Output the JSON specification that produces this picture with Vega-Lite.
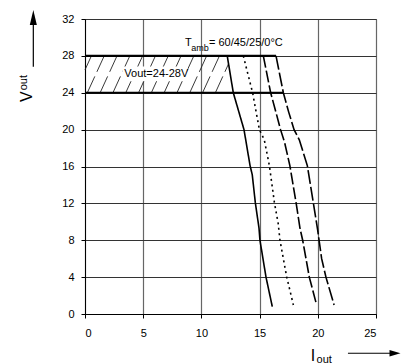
{
  "$schema": "https://vega.github.io/schema/vega-lite/v6.json",
  "width": 291,
  "height": 295,
  "autosize": {"type": "none"},
  "padding": {"left": 85, "top": 19, "right": 25, "bottom": 50},
  "background": "white",
  "config": {
    "view": {"stroke": "#444", "strokeWidth": 1},
    "font": "Liberation Sans",
    "axis": {
      "labelFont": "Liberation Sans",
      "labelFontSize": 11,
      "labelColor": "#000",
      "domainColor": "#000",
      "domainWidth": 1,
      "tickColor": "#000",
      "tickSize": 4,
      "grid": true,
      "gridOpacity": 1,
      "title": null
    }
  },
  "encoding": {
    "x": {
      "field": "x",
      "type": "quantitative",
      "scale": {"domain": [0, 25], "nice": false, "zero": false},
      "axis": {"values": [0, 5, 10, 15, 20, 25], "gridColor": "#666", "gridWidth": 1.2, "labelPadding": 9, "title": null}
    },
    "y": {
      "field": "y",
      "type": "quantitative",
      "scale": {"domain": [0, 32], "nice": false, "zero": false},
      "axis": {"values": [0, 4, 8, 12, 16, 20, 24, 28, 32], "gridColor": "#333", "gridWidth": 1, "labelPadding": 7, "title": null}
    }
  },
  "layer": [
    {
      "data": {"values": [
        {"x": 0, "y": 26.48, "x2": 0.55, "y2": 28},
        {"x": 0.2, "y": 24, "x2": 1.65, "y2": 28},
        {"x": 1.3, "y": 24, "x2": 2.75, "y2": 28},
        {"x": 2.4, "y": 24, "x2": 3.85, "y2": 28},
        {"x": 3.5, "y": 24, "x2": 4.95, "y2": 28},
        {"x": 4.6, "y": 24, "x2": 6.05, "y2": 28},
        {"x": 5.7, "y": 24, "x2": 7.15, "y2": 28},
        {"x": 6.8, "y": 24, "x2": 8.25, "y2": 28},
        {"x": 7.9, "y": 24, "x2": 9.35, "y2": 28},
        {"x": 9.0, "y": 24, "x2": 10.45, "y2": 28},
        {"x": 10.1, "y": 24, "x2": 11.55, "y2": 28},
        {"x": 11.2, "y": 24, "x2": 12.33, "y2": 27.13}
      ]},
      "mark": {"type": "rule", "color": "#222", "strokeWidth": 0.9, "strokeDash": [18, 5]},
      "encoding": {"x2": {"field": "x2"}, "y2": {"field": "y2"}}
    },
    {
      "data": {"values": [{"x": 3.2, "x2": 8.8, "y": 25.25, "y2": 26.85}]},
      "mark": {"type": "rect", "color": "white"},
      "encoding": {"x2": {"field": "x2"}, "y2": {"field": "y2"}}
    },
    {
      "data": {"values": [{"x": 0, "x2": 16.41, "y": 28}, {"x": 0, "x2": 17.04, "y": 24}]},
      "mark": {"type": "rule", "color": "#000", "strokeWidth": 2.2},
      "encoding": {"x2": {"field": "x2"}}
    },
    {
      "data": {"values": [
        {"curve": "60", "o": 1, "x": 12.22, "y": 28},
        {"curve": "60", "o": 2, "x": 12.74, "y": 24},
        {"curve": "60", "o": 3, "x": 13.66, "y": 20},
        {"curve": "60", "o": 4, "x": 14.18, "y": 16.1},
        {"curve": "60", "o": 5, "x": 14.37, "y": 15.1},
        {"curve": "60", "o": 6, "x": 14.63, "y": 12.1},
        {"curve": "60", "o": 7, "x": 14.95, "y": 9.3},
        {"curve": "60", "o": 8, "x": 15.03, "y": 8},
        {"curve": "60", "o": 9, "x": 15.55, "y": 4},
        {"curve": "60", "o": 10, "x": 16.09, "y": 0.8},
        {"curve": "45", "o": 1, "x": 13.6, "y": 28},
        {"curve": "45", "o": 2, "x": 14.4, "y": 24},
        {"curve": "45", "o": 3, "x": 14.98, "y": 20},
        {"curve": "45", "o": 4, "x": 15.4, "y": 18.9},
        {"curve": "45", "o": 5, "x": 15.84, "y": 16.1},
        {"curve": "45", "o": 6, "x": 16.27, "y": 12.1},
        {"curve": "45", "o": 7, "x": 16.6, "y": 9.8},
        {"curve": "45", "o": 8, "x": 16.75, "y": 8},
        {"curve": "45", "o": 9, "x": 17.04, "y": 6},
        {"curve": "45", "o": 10, "x": 17.33, "y": 4},
        {"curve": "45", "o": 11, "x": 17.7, "y": 2.06},
        {"curve": "45", "o": 12, "x": 17.9, "y": 0.98},
        {"curve": "25", "o": 1, "x": 15.32, "y": 28},
        {"curve": "25", "o": 2, "x": 15.95, "y": 24},
        {"curve": "25", "o": 3, "x": 16.4, "y": 21.9},
        {"curve": "25", "o": 4, "x": 16.8, "y": 20},
        {"curve": "25", "o": 5, "x": 17.15, "y": 18.6},
        {"curve": "25", "o": 6, "x": 17.6, "y": 16.1},
        {"curve": "25", "o": 7, "x": 18.13, "y": 12.1},
        {"curve": "25", "o": 8, "x": 18.47, "y": 9.3},
        {"curve": "25", "o": 9, "x": 18.7, "y": 8},
        {"curve": "25", "o": 10, "x": 19.27, "y": 4},
        {"curve": "25", "o": 11, "x": 19.9, "y": 0.98},
        {"curve": "0", "o": 1, "x": 16.41, "y": 28},
        {"curve": "0", "o": 2, "x": 17.04, "y": 24},
        {"curve": "0", "o": 3, "x": 17.5, "y": 21.9},
        {"curve": "0", "o": 4, "x": 17.96, "y": 20},
        {"curve": "0", "o": 5, "x": 18.41, "y": 18.9},
        {"curve": "0", "o": 6, "x": 19.1, "y": 16.1},
        {"curve": "0", "o": 7, "x": 19.61, "y": 12.1},
        {"curve": "0", "o": 8, "x": 19.99, "y": 9.1},
        {"curve": "0", "o": 9, "x": 20.33, "y": 6},
        {"curve": "0", "o": 10, "x": 20.7, "y": 4},
        {"curve": "0", "o": 11, "x": 21.4, "y": 0.98}
      ]},
      "mark": {"type": "line", "color": "#000", "strokeWidth": 1.6},
      "encoding": {
        "detail": {"field": "curve"},
        "order": {"field": "o", "type": "quantitative"},
        "strokeDash": {
          "field": "curve",
          "type": "nominal",
          "scale": {"domain": ["60", "45", "25", "0"], "range": [[1, 0], [2, 3.5], [12, 3], [14, 3]]},
          "legend": null
        }
      }
    },
    {
      "data": {"values": [{"x": 3.38, "y": 26.05, "t": "Vout=24-28V"}]},
      "mark": {"type": "text", "align": "left", "baseline": "middle", "fontSize": 11, "font": "Liberation Sans", "color": "#000"},
      "encoding": {"text": {"field": "t"}}
    },
    {
      "data": {"values": [{"x": 8.59, "y": 29.4, "t": "T"}]},
      "mark": {"type": "text", "align": "left", "baseline": "middle", "fontSize": 11, "font": "Liberation Sans", "color": "#000"},
      "encoding": {"text": {"field": "t"}}
    },
    {
      "data": {"values": [{"x": 9.12, "y": 28.85, "t": "amb"}]},
      "mark": {"type": "text", "align": "left", "baseline": "middle", "fontSize": 9, "font": "Liberation Sans", "color": "#000"},
      "encoding": {"text": {"field": "t"}}
    },
    {
      "data": {"values": [{"x": 10.65, "y": 29.4, "t": "= 60/45/25/0°C"}]},
      "mark": {"type": "text", "align": "left", "baseline": "middle", "fontSize": 11, "font": "Liberation Sans", "color": "#000"},
      "encoding": {"text": {"field": "t"}}
    },
    {
      "data": {"values": [{"x": -4.94, "y": 23.57, "t": "V"}]},
      "mark": {"type": "text", "align": "center", "baseline": "middle", "angle": 270, "fontSize": 16, "font": "Liberation Sans", "color": "#000"},
      "encoding": {"text": {"field": "t"}}
    },
    {
      "data": {"values": [{"x": -5.22, "y": 25.1, "t": "out"}]},
      "mark": {"type": "text", "align": "center", "baseline": "middle", "angle": 270, "fontSize": 11, "font": "Liberation Sans", "color": "#000"},
      "encoding": {"text": {"field": "t"}}
    },
    {
      "data": {"values": [{"x": 19.59, "y": -4.56, "t": "I"}]},
      "mark": {"type": "text", "align": "center", "baseline": "middle", "fontSize": 16, "font": "Liberation Sans", "color": "#000"},
      "encoding": {"text": {"field": "t"}}
    },
    {
      "data": {"values": [{"x": 19.89, "y": -5.0, "t": "out"}]},
      "mark": {"type": "text", "align": "left", "baseline": "middle", "fontSize": 11, "font": "Liberation Sans", "color": "#000"},
      "encoding": {"text": {"field": "t"}}
    },
    {
      "data": {"values": [{"x": -4.44, "y": 26.82, "x2": -4.44, "y2": 31.5}]},
      "mark": {"type": "rule", "color": "#000", "strokeWidth": 1.2},
      "encoding": {"y2": {"field": "y2"}}
    },
    {
      "data": {"values": [{"x": -4.44, "y": 32.16}]},
      "mark": {"type": "point", "filled": true, "opacity": 1, "color": "#000", "size": 225, "shape": "M-0.47,1L0,-1L0.47,1Z"}
    },
    {
      "data": {"values": [{"x": 22.59, "y": -4.26, "x2": 26.2}]},
      "mark": {"type": "rule", "color": "#000", "strokeWidth": 1.2},
      "encoding": {"x2": {"field": "x2"}}
    },
    {
      "data": {"values": [{"x": 26.63, "y": -4.26}]},
      "mark": {"type": "point", "filled": true, "opacity": 1, "color": "#000", "size": 121, "shape": "M-1,-0.6L1,0L-1,0.6Z"}
    }
  ]
}
